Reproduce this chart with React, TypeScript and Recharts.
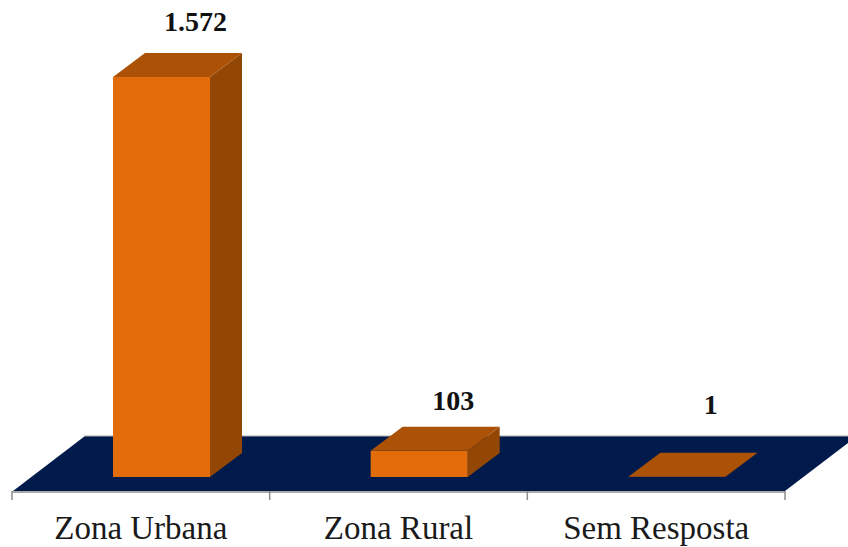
import { Bar, BarChart, LabelList, ReferenceArea, XAxis, YAxis } from "recharts";

const categories = ["Zona Urbana", "Zona Rural", "Sem Resposta"];
const values = [1572, 103, 1];
const valueLabels = ["1.572", "103", "1"];

const SERIF = '"Liberation Serif", serif';
const DEPTH_X = 32;
const DEPTH_Y = 24;
// the 3D box sits inside the floor, not on the axis line
const BAR_SHIFT_X = 21;
const BAR_SHIFT_Y = 14;
const FLOOR_SLANT = 72;
const labelLift = [46, 41, 63];

const data = categories.map((name, i) => ({ name, value: values[i] }));

function Floor({ x, y, width, height }: any) {
  const bottom = y + height;
  const step = width / categories.length;
  return (
    <g>
      <polygon
        points={`${x + 1},${bottom} ${x + FLOOR_SLANT + 1},${y} ${x + width + FLOOR_SLANT},${y} ${x + width},${bottom}`}
        fill="#001a4b"
      />
      <line x1={x + FLOOR_SLANT} y1={y} x2={x + width + FLOOR_SLANT} y2={y} stroke="#a6a6a6" strokeWidth={1} />
      <line x1={x} y1={bottom + 1} x2={x + width} y2={bottom + 1} stroke="#8c8c8c" strokeWidth={1.5} />
      {[0, 1, 2, 3].map((i) => (
        <line
          key={i}
          x1={x + i * step}
          y1={bottom}
          x2={x + i * step}
          y2={bottom + 9}
          stroke="#8c8c8c"
          strokeWidth={1.5}
        />
      ))}
    </g>
  );
}

function Box({ x, y, width, height }: any) {
  const left = x + BAR_SHIFT_X;
  const right = left + width;
  const top = y - BAR_SHIFT_Y;
  const base = top + height;
  return (
    <g>
      <polygon
        points={`${right},${top} ${right + DEPTH_X},${top - DEPTH_Y} ${right + DEPTH_X},${base - DEPTH_Y} ${right},${base}`}
        fill="#934705"
      />
      <rect x={left} y={top} width={width} height={height} fill="#e36c0a" />
      <polygon
        points={`${left},${top} ${left + DEPTH_X},${top - DEPTH_Y} ${right + DEPTH_X},${top - DEPTH_Y} ${right},${top}`}
        fill="#ab5207"
      />
    </g>
  );
}

function ValueLabel({ x, y, width, index }: any) {
  return (
    <text
      x={x + width / 2 + BAR_SHIFT_X + 34}
      y={y - BAR_SHIFT_Y - labelLift[index]}
      textAnchor="middle"
      fontFamily={SERIF}
      fontWeight={700}
      fontSize={28}
      fill="#111"
    >
      {valueLabels[index]}
    </text>
  );
}

export default function App() {
  return (
    <div style={{ position: "absolute", left: 0, top: 0, width: 848, height: 547, overflow: "hidden", background: "#fff" }}>
      <BarChart
        width={848}
        height={547}
        data={data}
        margin={{ top: 33, right: 63, bottom: 0, left: 12 }}
        barCategoryGap={0}
      >
        <XAxis
          dataKey="name"
          height={56}
          axisLine={false}
          tickLine={false}
          interval={0}
          tickMargin={19}
          tick={{ fill: "#1a1a1a", fontSize: 33, fontFamily: SERIF }}
        />
        <YAxis hide domain={[0, 1800]} />
        <ReferenceArea y1={0} y2={216} ifOverflow="visible" shape={<Floor />} />
        <Bar dataKey="value" barSize={97} shape={<Box />} isAnimationActive={false}>
          <LabelList dataKey="value" content={<ValueLabel />} />
        </Bar>
      </BarChart>
    </div>
  );
}
